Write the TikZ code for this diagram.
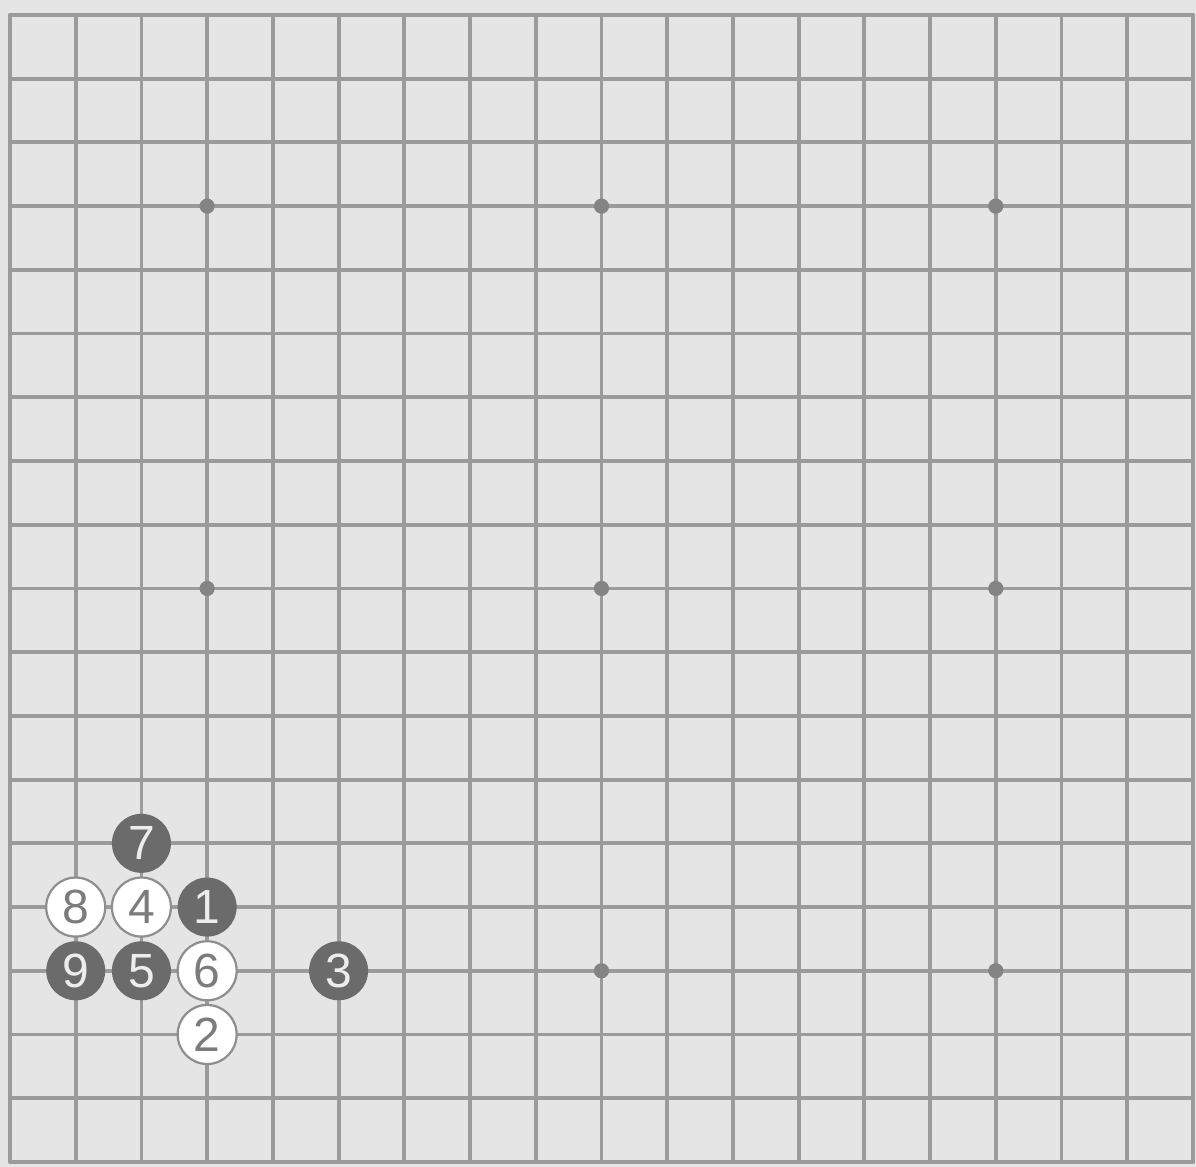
\documentclass[tikz,border=0pt]{standalone}
\usepackage{fontspec}
\setsansfont{Liberation Sans}
\definecolor{boardbg}{HTML}{E5E5E5}
\definecolor{gridline}{HTML}{9B9B9B}
\definecolor{stonedark}{HTML}{6B6B6B}
\definecolor{stonerim}{HTML}{8E8E8E}
\definecolor{numgray}{HTML}{7C7C7C}

\begin{document}
\begin{tikzpicture}[x=32.85pt,y=31.85pt,line cap=round,line join=round,
  stone/.style={circle,minimum size=29.5pt,inner sep=0pt,
    font=\sffamily\fontsize{24}{24}\selectfont},
  blackstone/.style={stone,fill=stonedark,text=white!93!black},
  whitestone/.style={stone,fill=white,draw=stonerim,line width=1.1pt,text=numgray}]
  % --- board and its margins ---
  \fill[boardbg] (-0.152,-0.079) rectangle (18.046,18.235);
  \useasboundingbox (-0.152,-0.079) rectangle (18.046,18.235);

  % --- 19x19 grid ---
  \foreach \i in {0,...,18} {
    \draw[gridline,line width=1.9pt] (\i,0) -- (\i,18);
    \draw[gridline,line width=1.9pt] (0,\i) -- (18,\i);
  }

  % --- star points ---
  \foreach \i in {3,9,15}
    \foreach \j in {3,9,15}
      \fill[gridline!85!black] (\i,\j) circle (3.8pt);

  % --- moves 1 to 9 ---
  \node[blackstone] (s1) at (3,4) {1};
  \node[whitestone] (s2) at (3,2) {2};
  \node[blackstone] (s3) at (5,3) {3};
  \node[whitestone] (s4) at (2,4) {4};
  \node[blackstone] (s5) at (2,3) {5};
  \node[whitestone] (s6) at (3,3) {6};
  \node[blackstone] (s7) at (2,5) {7};
  \node[whitestone] (s8) at (1,4) {8};
  \node[blackstone] (s9) at (1,3) {9};
\end{tikzpicture}
\end{document}
